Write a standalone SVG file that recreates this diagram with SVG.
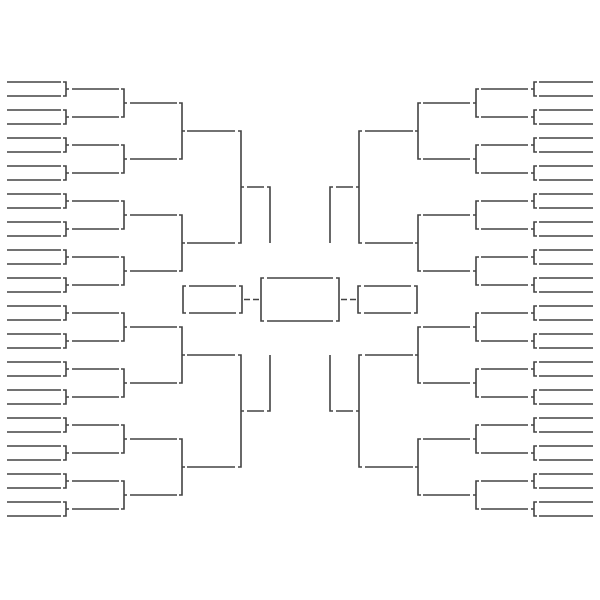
<svg xmlns="http://www.w3.org/2000/svg" xmlns:xlink="http://www.w3.org/1999/xlink" width="600" height="600" viewBox="0 0 600 600">
<style>path{fill:none;stroke:#444;stroke-width:1.6}</style>
<rect width="600" height="600" fill="#fff"/>
<defs>
<g id="half">
<g id="round1"><path d="M7,82H61M7,96H61M7,110H61M7,124H61M7,138H61M7,152H61M7,166H61M7,180H61M7,194H61M7,208H61M7,222H61M7,236H61M7,250H61M7,264H61M7,278H61M7,292H61M7,306H61M7,320H61M7,334H61M7,348H61M7,362H61M7,376H61M7,390H61M7,404H61M7,418H61M7,432H61M7,446H61M7,460H61M7,474H61M7,488H61M7,502H61M7,516H61"/></g>
<g id="connectors">
<path d="M63,82H66V96H63M66,89H69M63,110H66V124H63M66,117H69M63,138H66V152H63M66,145H69M63,166H66V180H63M66,173H69M63,194H66V208H63M66,201H69M63,222H66V236H63M66,229H69M63,250H66V264H63M66,257H69M63,278H66V292H63M66,285H69M63,306H66V320H63M66,313H69M63,334H66V348H63M66,341H69M63,362H66V376H63M66,369H69M63,390H66V404H63M66,397H69M63,418H66V432H63M66,425H69M63,446H66V460H63M66,453H69M63,474H66V488H63M66,481H69M63,502H66V516H63M66,509H69"/>
<path d="M72,89H119M72,117H119M72,145H119M72,173H119M72,201H119M72,229H119M72,257H119M72,285H119M72,313H119M72,341H119M72,369H119M72,397H119M72,425H119M72,453H119M72,481H119M72,509H119"/>
<path d="M121,89H124V117H121M124,103H127M121,145H124V173H121M124,159H127M121,201H124V229H121M124,215H127M121,257H124V285H121M124,271H127M121,313H124V341H121M124,327H127M121,369H124V397H121M124,383H127M121,425H124V453H121M124,439H127M121,481H124V509H121M124,495H127"/>
<path d="M130,103H177M130,159H177M130,215H177M130,271H177M130,327H177M130,383H177M130,439H177M130,495H177"/>
<path d="M179,103H182V159H179M182,131H185M179,215H182V271H179M182,243H185M179,327H182V383H179M182,355H185M179,439H182V495H179M182,467H185"/>
<path d="M187,131H235M187,243H235M187,355H235M187,467H235"/>
<path d="M238,131H241V243H238M241,187H244M238,355H241V467H238M241,411H244"/>
<path d="M247,187H264M247,411H264M267,187H270V243M267,411H270V355"/>
<path d="M186,286H183V313H186M239,286H242V313H239M189,286H236M189,313H236"/>
<path d="M244,299.5H250M253,299.5H259"/>
</g>
</g>
</defs>
<use xlink:href="#half"/>
<use xlink:href="#half" transform="translate(600,0) scale(-1,1)"/>
<g id="final"><path d="M264,278H261V321H264M336,278H339V321H336M267,278H333M267,321H333"/></g>
</svg>
